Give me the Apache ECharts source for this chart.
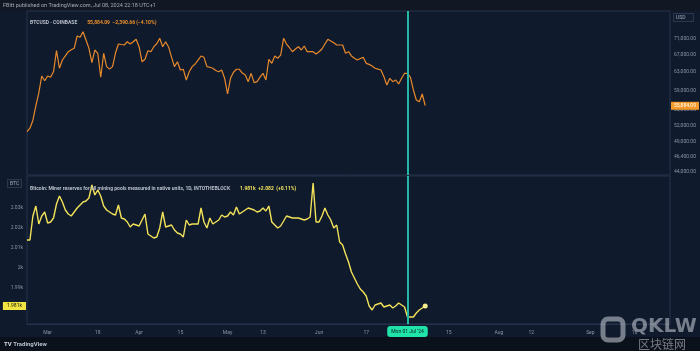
<!DOCTYPE html>
<html>
<head>
<meta charset="utf-8">
<title>BTCUSD vs miner reserves</title>
<script src="https://cdn.jsdelivr.net/npm/echarts@6/dist/echarts.min.js"></script>
<style>
  html, body { margin: 0; padding: 0; background: #0e1828; }
  #chart { width: 700px; height: 351px; }
</style>
</head>
<body>
<div id="chart"></div>
<script>
// daily closes, Feb 23 -> Jul 7 2024
var startDate = '2024-02-23';
var endDate = '2024-09-28';
var btcPrice = [
  50860, 51500, 53000, 55800, 58500, 62150, 61100, 62150, 61860, 63150,
  68070, 63900, 65830, 66800, 67830, 68300, 68660, 71770, 71430, 72890,
  70740, 68660, 65200, 68240, 67440, 61860, 67440, 64270, 63700, 64270,
  67500, 69730, 69600, 69480, 70310, 69730, 70300, 70920, 69060, 65430,
  66000, 68070, 67830, 69060, 69800, 71180, 69060, 70310, 69000, 66500,
  64270, 65430, 63500, 63660, 61260, 63120, 64270, 64890, 65800, 66790,
  66470, 64270, 64130, 63900, 63400, 63120, 63500, 61640, 58250, 61640,
  63000, 63670, 63670, 62800, 62370, 60890, 62750, 60670, 60890, 61900,
  62750, 61260, 66000, 65050, 66790, 66240, 67000, 71180, 69730, 68800,
  67830, 68500, 69060, 68240, 69230, 67830, 67830, 67830, 67270, 67830,
  68500, 69730, 70920, 70500, 70060, 69480, 69480, 69480, 67440, 67830,
  66800, 66240, 65830, 66200, 66470, 65050, 64800, 64430, 63900, 63700,
  63510, 62000, 60170, 61640, 60890, 61260, 60390, 61640, 62750, 62750,
  61860, 59100, 57010, 56660, 58250, 55884.09
];
var minerReserves = [
  2014, 2014, 2026, 2031, 2022, 2026, 2028, 2022.5, 2023, 2025,
  2032, 2036, 2033, 2029, 2027, 2026, 2028, 2030, 2031.5, 2033,
  2033.5, 2035, 2041.5, 2036.5, 2039, 2036, 2031, 2029, 2028, 2027,
  2026.5, 2031.5, 2025, 2024.5, 2023, 2020.5, 2022, 2021.5, 2021, 2024,
  2027, 2017, 2016, 2015, 2015.5, 2020, 2028, 2020.5, 2021, 2021.5,
  2019, 2017.5, 2017, 2015.5, 2024, 2021.5, 2022, 2022, 2022, 2030,
  2023, 2020, 2025, 2022, 2023, 2024, 2026.5, 2025.5, 2026, 2028,
  2026.5, 2030.5, 2027, 2028, 2029, 2030, 2029.5, 2029, 2028, 2028.5,
  2030, 2028.5, 2031, 2023, 2021.5, 2020, 2021, 2023.5, 2026, 2025.5,
  2025, 2025, 2025, 2024.5, 2024, 2024.5, 2025.5, 2042.5, 2023, 2023,
  2026, 2030, 2026.5, 2024, 2020, 2021.5, 2013, 2011.5, 2007, 2003,
  1998, 1995, 1992, 1989.5, 1988, 1986, 1981, 1979, 1981.5, 1982,
  1982.5, 1980.5, 1981, 1981.5, 1980, 1981, 1982.5, 1981.5, 1980.5, 1975.5,
  1975.5, 1975.5, 1977.5, 1979, 1980, 1981
];
var priceTicks = [71000, 67000, 63000, 59000, 55000, 52000, 49000, 46400, 44000];
var reserveTicks = [1990, 2000, 2010, 2020, 2030];
var timeTickDates = ['2024-03-01', '2024-03-18', '2024-04-01', '2024-04-15', '2024-05-01', '2024-05-13',
  '2024-06-01', '2024-06-17', '2024-07-15', '2024-08-01', '2024-08-12', '2024-09-01', '2024-09-16'];
var timeTickLabels = ['Mar', '18', 'Apr', '15', 'May', '13', 'Jun', '17', '15', 'Aug', '12', 'Sep', '16'];
var crosshairDate = '2024-07-01';

// day categories for the time axis
var days = [];
var d = new Date(startDate + 'T00:00:00Z');
var end = new Date(endDate + 'T00:00:00Z');
while (d <= end) {
  days.push(d.toISOString().slice(0, 10));
  d.setUTCDate(d.getUTCDate() + 1);
}
var tickText = {};
timeTickDates.forEach(function (t, i) { tickText[t] = timeTickLabels[i]; });
var crossIdx = days.indexOf(crosshairDate);

// price pane is log scaled like the TradingView chart
var lnTop = Math.log(71000) + 28 / 277.8;
var lnBottom = Math.log(71000) - 136 / 277.8;
var lastPrice = btcPrice[btcPrice.length - 1];
var lastReserve = minerReserves[minerReserves.length - 1];

var labelFont = 'Roboto';
var txt = '#8d96a8';
var border = '#27324a';
var teal = '#22b8a6';
var wm = 'rgba(205,210,220,0.55)';

function crosshair(withLabel) {
  return {
    show: true, type: 'line', value: crossIdx, status: 'show', snap: false, triggerTooltip: false,
    lineStyle: { color: teal, width: 2, type: 'solid' },
    label: withLabel ? {
      show: true, formatter: "Mon 01 Jul '24", margin: 2,
      color: '#0c1b1f', backgroundColor: '#1fe3a8', padding: [3, 4, 3, 4], fontSize: 5, fontFamily: labelFont
    } : { show: false }
  };
}

var mychart = echarts.init(document.getElementById('chart'));
var option = {
  backgroundColor: '#0f1a2c',
  animation: false,
  axisPointer: { triggerOn: 'none' },
  title: [
    { text: 'FBitt published on TradingView.com, Jul 08, 2024 22:18 UTC+1', left: 3, top: 3, padding: 0,
      textStyle: { color: '#a3abbb', fontSize: 5.5, fontWeight: 'normal', fontFamily: labelFont } },
    { text: '{a|BTCUSD · COINBASE}  {b|55,884.09  −2,390.66 (−4.10%)}', left: 30, top: 14, padding: 0,
      textStyle: { rich: {
        a: { color: '#b8bfcc', fontSize: 5, fontFamily: labelFont },
        b: { color: '#f0902c', fontSize: 5, fontFamily: labelFont }
      } } },
    { text: '{a|Bitcoin: Miner reserves for all mining pools measured in native units, 1D, INTOTHEBLOCK}  {b|1.981k  +2.082  (+0.11%)}',
      left: 30, top: 180, padding: 0,
      textStyle: { rich: {
        a: { color: '#b8bfcc', fontSize: 5, fontFamily: labelFont },
        b: { color: '#f2e25a', fontSize: 5, fontFamily: labelFont }
      } } },
    { text: 'USD', left: 673, top: 13, padding: [2, 8, 2, 3], borderColor: '#2c364c', borderWidth: 1,
      backgroundColor: '#131d30', textStyle: { color: '#a3abbb', fontSize: 5, fontWeight: 'normal', fontFamily: labelFont } },
    { text: 'BTC', left: 7, top: 179, padding: [2, 3, 2, 3], borderColor: '#2c364c', borderWidth: 1,
      backgroundColor: '#131d30', textStyle: { color: '#a3abbb', fontSize: 5, fontWeight: 'normal', fontFamily: labelFont } },
    { text: '{l|TV} TradingView', left: 4, top: 341, padding: 0,
      textStyle: { color: '#b8bfcc', fontSize: 6, fontFamily: labelFont,
        rich: { l: { color: '#d8dde6', fontSize: 6, fontWeight: 'bold', fontFamily: labelFont } } } }
  ],
  graphic: [
    { type: 'rect', shape: { x: 0, y: 0, width: 700, height: 11 }, style: { fill: '#121823' }, z: -1 },
    { type: 'rect', shape: { x: 0, y: 337, width: 700, height: 14 }, style: { fill: '#0b111b' }, z: -1 },
    { type: 'rect', shape: { x: 603, y: 319, width: 20, height: 21, r: 5 },
      style: { fill: 'none', stroke: wm, lineWidth: 5 }, z: 100 },
    { type: 'text', x: 631, y: 317, style: { text: 'QKLW', fill: wm, font: '900 20px "DejaVu Sans"' }, z: 100 },
    { type: 'text', x: 638, y: 338, style: { text: '区块链网', fill: wm, font: '12px "Noto Sans CJK SC"' }, z: 100 }
  ],
  grid: [
    { left: 27, width: 643, top: 11, height: 164, show: true, borderColor: border, borderWidth: 1, backgroundColor: 'transparent' },
    { left: 27, width: 643, top: 176, height: 148, show: true, borderColor: border, borderWidth: 1, backgroundColor: 'transparent' }
  ],
  xAxis: [
    { type: 'category', gridIndex: 0, data: days, boundaryGap: false,
      axisPointer: crosshair(false),
      axisLine: { show: false }, axisTick: { show: false }, axisLabel: { show: false }, splitLine: { show: false } },
    { type: 'category', gridIndex: 1, data: days, boundaryGap: false,
      axisPointer: crosshair(true),
      axisLine: { lineStyle: { color: border } }, axisTick: { show: false }, splitLine: { show: false },
      axisLabel: {
        color: txt, fontSize: 5, fontFamily: labelFont, margin: 6,
        interval: function (i, v) { return tickText[v] !== undefined; },
        formatter: function (v) { return tickText[v] || ''; }
      } }
  ],
  yAxis: [
    { type: 'value', gridIndex: 0, position: 'right', min: lnBottom, max: lnTop,
      axisLine: { show: false }, axisTick: { show: false }, splitLine: { show: false },
      axisLabel: {
        color: txt, fontSize: 5, fontFamily: labelFont, margin: 4,
        customValues: priceTicks.map(Math.log),
        formatter: function (v) {
          return Math.round(Math.exp(v)).toLocaleString('en-US', { minimumFractionDigits: 2 });
        }
      } },
    { type: 'value', gridIndex: 1, position: 'left', min: 1972, max: 2046,
      axisLine: { show: false }, axisTick: { show: false }, splitLine: { show: false },
      axisLabel: {
        color: txt, fontSize: 5, fontFamily: labelFont, margin: 4,
        customValues: reserveTicks,
        formatter: function (v) { return (v / 1000) + 'k'; }
      } }
  ],
  series: [
    {
      name: 'BTCUSD', type: 'line', xAxisIndex: 0, yAxisIndex: 0,
      data: btcPrice.map(Math.log), showSymbol: false,
      lineStyle: { color: '#e8892b', width: 1.2 },
      markLine: {
        silent: true, symbol: ['none', 'none'],
        data: [
          { yAxis: Math.log(lastPrice), lineStyle: { color: 'transparent', width: 0 },
            label: { show: true, position: 'end', distance: 1, formatter: '55,884.09',
              color: '#fff', backgroundColor: '#f39a2a', padding: [2, 3, 1, 3], fontSize: 5, fontFamily: labelFont } }
        ]
      }
    },
    {
      name: 'Miner reserves', type: 'line', xAxisIndex: 1, yAxisIndex: 1,
      data: minerReserves, showSymbol: false,
      lineStyle: { color: '#f2e25a', width: 1.4 },
      markPoint: {
        silent: true, symbol: 'circle', symbolSize: 5,
        itemStyle: { color: '#f6ec8a' }, label: { show: false },
        data: [{ coord: [minerReserves.length - 1, lastReserve] }]
      },
      markLine: {
        silent: true, symbol: ['none', 'none'],
        data: [
          { yAxis: lastReserve, lineStyle: { color: 'transparent', width: 0 },
            label: { show: true, position: 'start', distance: 1, formatter: '1.981k',
              color: '#1b1b10', backgroundColor: '#f2e440', padding: [2, 4, 1, 4], fontSize: 5, fontFamily: labelFont } }
        ]
      }
    }
  ]
};
mychart.setOption(option);
</script>
</body>
</html>
